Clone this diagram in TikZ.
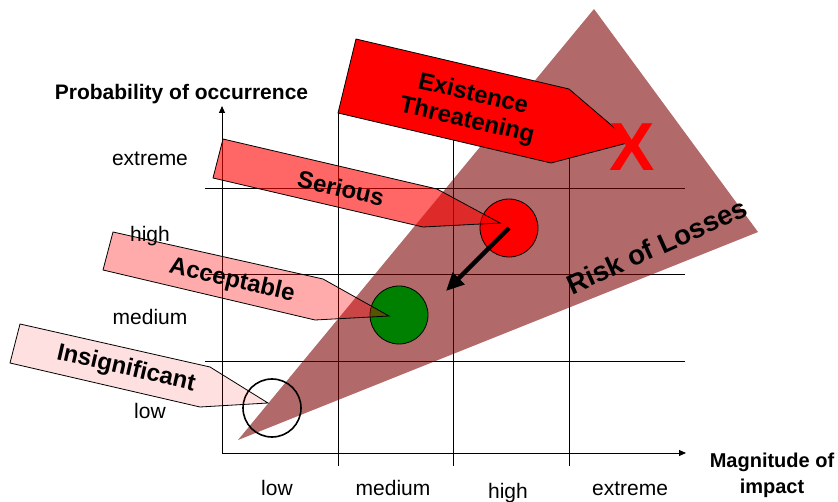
\documentclass[tikz,border=0pt]{standalone}
\usepackage{fontspec}
\setmainfont{Liberation Sans}
\usetikzlibrary{
    arrows.meta,
    positioning
}
\definecolor{riskred}{RGB}{122,0,0}
\definecolor{okgreen}{RGB}{0,128,0}
\tikzset{
  grid line/.style = {
      draw,
      line width=0.9pt
  },
  axis/.style = {
      draw,
      line width=0.9pt,
      -{Triangle[length=7pt,width=6pt]}
  },
  tick/.style = {
      font=\fontsize{21}{25}\selectfont,
      anchor=base,
      inner sep=0pt
  },
  title/.style = {
      font=\fontsize{20}{26}\selectfont\bfseries,
      align=center,
      inner sep=0pt
  },
  callout/.style = {
      draw,
      line width=0.8pt,
      fill=red
  },
  level/.style = {
      font=\fontsize{24}{27}\selectfont\bfseries,
      rotate=-13,
      align=center,
      inner sep=0pt
  },
  spot/.style = {
      circle,
      draw,
      minimum size=58pt,
      inner sep=0pt,
      line width=0.8pt
  },
  move/.style = {
      line width=4.5pt,
      -{Triangle[length=18pt,width=16pt]}
  },
  risk/.style = {
      fill=riskred,
      fill opacity=0.59
  }
}
\begin{document}
\begin{tikzpicture}[x=1pt, y=-1pt]
        \useasboundingbox (0,0) rectangle (838,502);
        % Grid
        \foreach \x in {338,453,569}
            \draw[grid line] (\x,113) -- (\x,466);
        \foreach \y in {188,274,361}
            \draw[grid line] (205,\y) -- (685,\y);
        % Axes
        \coordinate (O) at (222,453);
        \coordinate (ytop) at (222,106);
        \coordinate (xend) at (686,453);
        \draw[axis] (O) -- (ytop);
        \draw[axis] (O) -- (xend);
        % Risk wedge
        \fill[risk] (238,440) -- (594,9) -- (758,232) -- cycle;
        % Spots
        \node[spot, line width=1.6pt] (low spot) at (272,408) {};
        \node[spot, fill=okgreen] (mid spot) at (399,315) {};
        \node[spot, fill=red] (high spot) at (509,228) {};
        % Callouts
        \draw[callout, fill opacity=0.12]
            (20,324) -- (210,367) -- (268,403) -- (200,407) -- (10,363) -- cycle;
        \draw[callout, fill opacity=0.33]
            (113,232) -- (323,279) -- (389,316) -- (315,320) -- (103,270) -- cycle;
        \draw[callout, fill opacity=0.6]
            (223,139) -- (437,189) -- (500,223) -- (423,227) -- (213,178) -- cycle;
        \draw[callout]
            (356,39) -- (569,89) -- (631,142) -- (551,163) -- (338,113) -- cycle;
        % Shift
        \coordinate (shift) at (446,291);
        \draw[move] (high spot.center) -- (shift);
        % Labels
        \node[level] (existence) at (470,108) {Existence\\Threatening};
        \node[level] (serious) at (341,188) {Serious};
        \node[level] (acceptable) at (232,281) {Acceptable};
        \node[level] (insignificant) at (126,369) {Insignificant};
        \node[font=\fontsize{27.5}{30}\selectfont\bfseries, rotate=24.4] (risk) at (657,246) {Risk of Losses};
        \node[font=\fontsize{68}{68}\selectfont\bfseries, text=red] (fatal) at (632,147) {X};
        % Axis titles
        \node[title, anchor=base, font=\fontsize{21}{26}\selectfont\bfseries] (prob) at (181.5,100) {Probability of occurrence};
        \node[title, anchor=base] (magn) at (772,493) {Magnitude of\\impact};
        % Ticks
        \node[tick] (py4) at (150,166) {extreme};
        \node[tick] (py3) at (150,242) {high};
        \node[tick] (py2) at (150,325) {medium};
        \node[tick] (py1) at (150,418) {low};
        \node[tick] (mx1) at (277,495.5) {low};
        \node[tick] (mx2) at (393,495.5) {medium};
        \node[tick] (mx3) at (508,498.5) {high};
        \node[tick] (mx4) at (630,495.5) {extreme};
    \end{tikzpicture}
\end{document}
